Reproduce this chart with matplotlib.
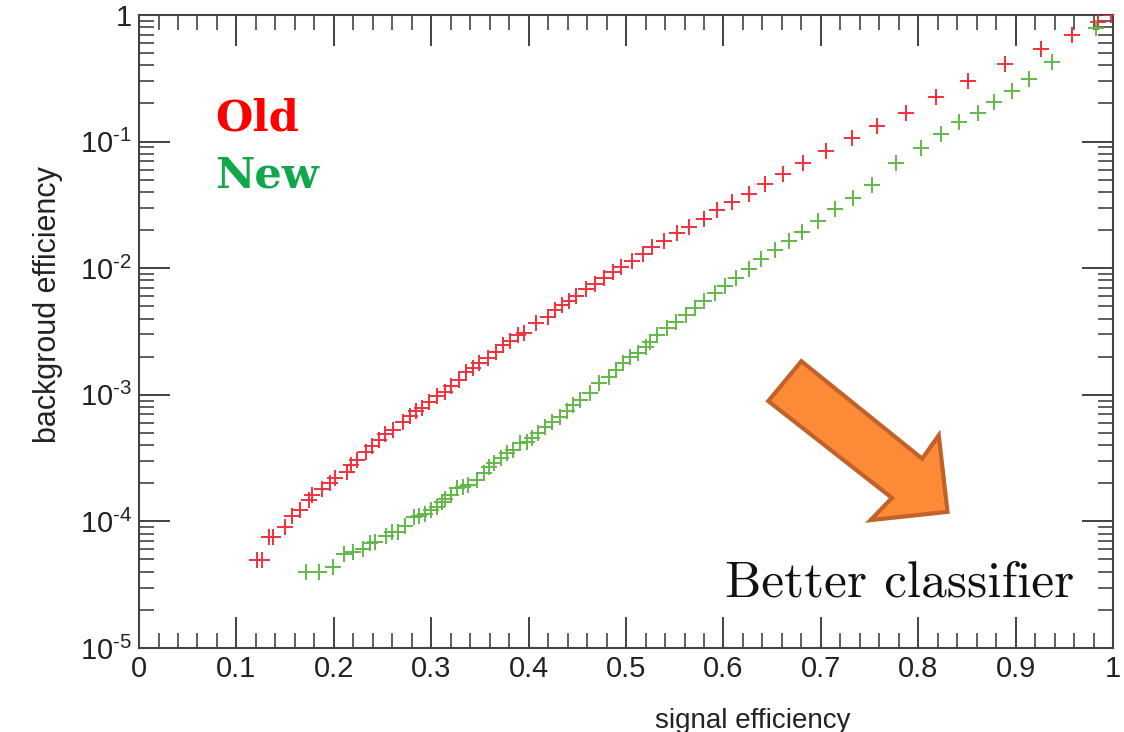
import math

import matplotlib.pyplot as plt
from matplotlib.patches import Polygon
from matplotlib.ticker import FixedLocator, LogLocator, NullFormatter

# ROC-like efficiency curves
old_sig = [0.121, 0.126, 0.133, 0.138, 0.150, 0.157, 0.165, 0.174, 0.178, 0.188,
           0.196, 0.201, 0.213, 0.218, 0.224, 0.233, 0.239, 0.246, 0.253, 0.261,
           0.271, 0.278, 0.284, 0.290, 0.298, 0.306, 0.314, 0.320, 0.328, 0.336,
           0.343, 0.349, 0.358, 0.366, 0.374, 0.381, 0.389, 0.395, 0.408, 0.420,
           0.427, 0.434, 0.441, 0.449, 0.459, 0.468, 0.477, 0.487, 0.495, 0.506,
           0.517, 0.527, 0.539, 0.552, 0.565, 0.580, 0.593, 0.609, 0.626, 0.643,
           0.661, 0.682, 0.705, 0.732, 0.758, 0.787, 0.818, 0.851, 0.889, 0.926,
           0.958, 0.984, 0.998]
old_bkg = [4.95e-5, 4.95e-5, 7.5e-5, 7.5e-5, 9.1e-5, 1.10e-4, 1.23e-4, 1.48e-4, 1.62e-4, 1.79e-4,
           2.0e-4, 2.19e-4, 2.47e-4, 2.79e-4, 3.05e-4, 3.55e-4, 3.94e-4, 4.4e-4, 4.9e-4, 5.3e-4,
           6.1e-4, 6.8e-4, 7.4e-4, 7.8e-4, 8.7e-4, 9.7e-4, 1.06e-3, 1.17e-3, 1.31e-3, 1.52e-3,
           1.64e-3, 1.77e-3, 1.96e-3, 2.19e-3, 2.47e-3, 2.67e-3, 2.97e-3, 3.10e-3, 3.67e-3, 4.14e-3,
           4.67e-3, 5.12e-3, 5.50e-3, 6.03e-3, 6.81e-3, 7.46e-3, 8.32e-3, 9.27e-3, 1.03e-2, 1.14e-2,
           1.29e-2, 1.47e-2, 1.64e-2, 1.90e-2, 2.13e-2, 2.45e-2, 2.86e-2, 3.31e-2, 3.88e-2, 4.65e-2,
           5.55e-2, 6.74e-2, 8.43e-2, 0.106, 0.132, 0.169, 0.225, 0.299, 0.408, 0.536,
           0.695, 0.875, 1.0]

new_sig = [0.171, 0.185, 0.199, 0.210, 0.220, 0.230, 0.237, 0.242, 0.254, 0.260,
           0.266, 0.273, 0.282, 0.287, 0.294, 0.300, 0.306, 0.311, 0.314, 0.320,
           0.326, 0.333, 0.338, 0.347, 0.354, 0.359, 0.364, 0.372, 0.378, 0.384,
           0.391, 0.398, 0.403, 0.410, 0.417, 0.424, 0.432, 0.439, 0.446, 0.453,
           0.463, 0.472, 0.482, 0.490, 0.497, 0.504, 0.512, 0.520, 0.525, 0.532,
           0.542, 0.551, 0.562, 0.571, 0.580, 0.591, 0.602, 0.613, 0.626, 0.639,
           0.653, 0.667, 0.681, 0.697, 0.714, 0.733, 0.752, 0.777, 0.803, 0.823,
           0.842, 0.861, 0.878, 0.896, 0.914, 0.937, 0.982]
new_bkg = [4.0e-5, 4.0e-5, 4.4e-5, 5.5e-5, 5.7e-5, 6.1e-5, 6.8e-5, 6.9e-5, 7.7e-5, 8.2e-5,
           8.3e-5, 9.2e-5, 1.08e-4, 1.10e-4, 1.14e-4, 1.23e-4, 1.31e-4, 1.42e-4, 1.49e-4, 1.62e-4,
           1.82e-4, 1.86e-4, 1.94e-4, 2.12e-4, 2.40e-4, 2.71e-4, 2.88e-4, 3.15e-4, 3.45e-4, 3.67e-4,
           4.14e-4, 4.26e-4, 4.53e-4, 5.02e-4, 5.6e-4, 6.13e-4, 6.7e-4, 7.4e-4, 8.3e-4, 9.1e-4,
           1.04e-3, 1.23e-3, 1.39e-3, 1.57e-3, 1.77e-3, 1.98e-3, 2.13e-3, 2.37e-3, 2.63e-3, 2.97e-3,
           3.35e-3, 3.78e-3, 4.27e-3, 4.82e-3, 5.5e-3, 6.33e-3, 7.27e-3, 8.4e-3, 9.9e-3, 1.18e-2,
           1.39e-2, 1.65e-2, 1.94e-2, 2.37e-2, 2.94e-2, 3.60e-2, 4.52e-2, 6.74e-2, 8.95e-2, 0.114,
           0.143, 0.169, 0.207, 0.252, 0.314, 0.428, 0.794]

x_ticks = [0, 0.1, 0.2, 0.3, 0.4, 0.5, 0.6, 0.7, 0.8, 0.9, 1]
x_ticklabels = ["0", "0.1", "0.2", "0.3", "0.4", "0.5", "0.6", "0.7", "0.8", "0.9", "1"]

plt.rcParams["font.family"] = ["Liberation Sans", "DejaVu Sans"]
plt.rcParams["mathtext.fontset"] = "custom"
plt.rcParams["mathtext.rm"] = "Liberation Sans"


def log_label(v, pos):
    if v >= 1:
        return "1"
    return r"$10^{\text{%d}}$" % round(math.log10(v))


fig = plt.figure(figsize=(11.24, 7.32), dpi=100)
ax = fig.add_axes([0.1237, 0.1148, 0.8666, 0.8647])

ax.scatter(old_sig, old_bkg, marker="+", s=120, linewidths=1.4, color="#f2303c", zorder=3)
ax.scatter(new_sig, new_bkg, marker="+", s=120, linewidths=1.4, color="#63b84a", zorder=3)

ax.set_yscale("log")
ax.set_xlim(0, 1)
ax.set_ylim(1e-5, 1)

ax.set_xticks(x_ticks)
ax.set_xticklabels(x_ticklabels)
ax.xaxis.set_minor_locator(FixedLocator([i / 50 for i in range(51)]))
ax.yaxis.set_major_locator(LogLocator(base=10, numticks=10))
ax.yaxis.set_minor_locator(LogLocator(base=10, subs=range(2, 10), numticks=50))
ax.yaxis.set_minor_formatter(NullFormatter())
ax.yaxis.set_major_formatter(plt.FuncFormatter(log_label))

ax.tick_params(which="both", direction="in", top=True, right=True, color="#333333")
ax.tick_params(which="major", length=22, width=1.3, labelsize=21, pad=5, labelcolor="#222222")
ax.tick_params(which="minor", length=11, width=1.1)
for s in ax.spines.values():
    s.set_linewidth(1.5)
    s.set_color("#444444")

ax.set_xlabel("signal efficiency", fontsize=20, labelpad=18, x=0.63, color="#222222")
ax.set_ylabel("backgroud efficiency", fontsize=22, labelpad=12, y=0.542, color="#222222")

ax.text(0.078, 0.818, "Old", transform=ax.transAxes, color="#ff0000",
        fontsize=31, fontweight="bold", family="DejaVu Serif")
ax.text(0.078, 0.727, "New", transform=ax.transAxes, color="#10a84a",
        fontsize=31, fontweight="bold", family="DejaVu Serif")

arrow = Polygon([(0.680, 0.453), (0.646, 0.390), (0.773, 0.237), (0.751, 0.202),
                 (0.830, 0.215), (0.821, 0.336), (0.804, 0.299)],
                closed=True, transform=ax.transAxes, facecolor="#fd8a37",
                edgecolor="#c0622a", linewidth=3, zorder=4)
ax.add_patch(arrow)
ax.text(0.602, 0.081, "Better classifier", transform=ax.transAxes,
        fontsize=37, family="cmr10", color="#111111")

fig.savefig("out.png", dpi=100)
